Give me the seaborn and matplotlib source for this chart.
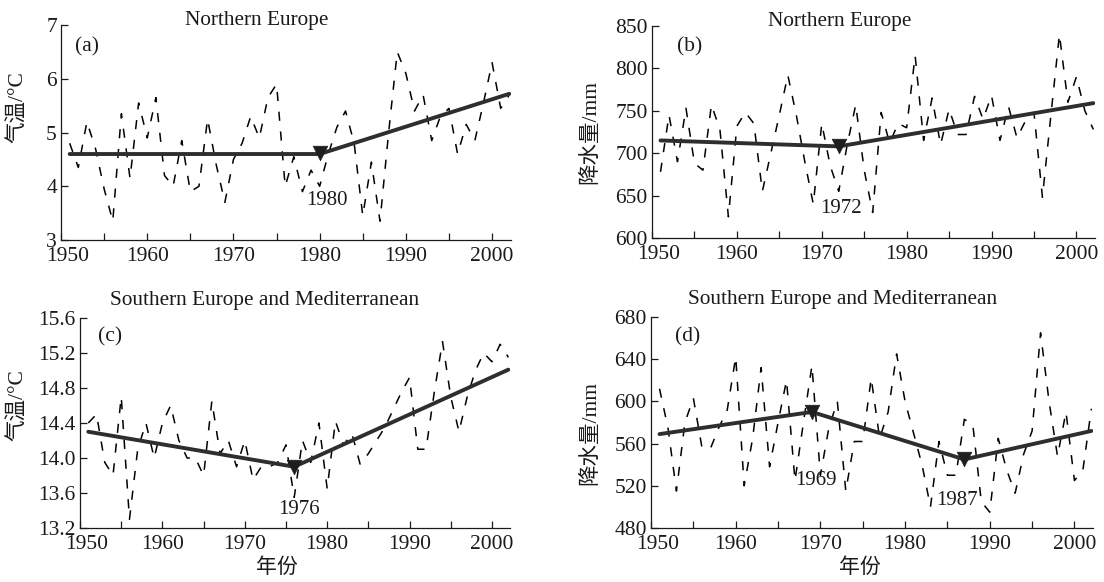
import matplotlib
matplotlib.use("Agg")
import matplotlib.pyplot as plt
import matplotlib.transforms as mtransforms
import seaborn as sns
import pandas as pd

# ---------------- data ----------------
years = list(range(1951, 2003))

temp_north = [4.8, 4.35, 5.2, 4.7, 3.95, 3.35, 5.35, 4.15, 5.55, 4.9,
              5.65, 4.2, 4.0, 4.85, 3.9, 4.0, 5.25, 4.4, 3.7, 4.5,
              4.8, 5.3, 4.9, 5.65, 5.9, 4.0, 4.55, 3.9, 4.3, 4.0,
              4.6, 5.1, 5.4, 4.8, 3.45, 4.45, 3.35, 5.0, 6.5, 6.1,
              5.4, 5.7, 4.85, 5.3, 5.45, 4.6, 5.15, 4.85, 5.55, 6.3,
              5.45, 5.7]

precip_north = [678, 745, 690, 753, 688, 680, 757, 728, 625, 732,
                748, 735, 655, 700, 745, 792, 745, 690, 640, 735,
                685, 655, 710, 757, 680, 630, 748, 712, 735, 730,
                815, 715, 765, 710, 752, 722, 722, 767, 740, 768,
                715, 755, 718, 738, 748, 648, 745, 840, 760, 790,
                750, 728]

temp_south = [14.4, 14.5, 13.95, 13.8, 14.7, 13.3, 14.1, 14.4, 14.0, 14.4,
              14.6, 14.2, 14.0, 14.0, 13.8, 14.65, 14.05, 14.2, 13.9, 14.2,
              13.75, 13.9, 13.9, 13.95, 14.15, 13.55, 14.2, 13.95, 14.4, 13.65,
              14.42, 14.15, 14.28, 13.93, 14.05, 14.2, 14.35, 14.55, 14.75, 14.92,
              14.1, 14.1, 14.75, 15.33, 14.7, 14.3, 14.7, 15.0, 15.2, 15.1,
              15.3, 15.15]

precip_south = [612, 575, 515, 580, 603, 557, 555, 575, 592, 642,
                520, 565, 632, 538, 580, 620, 525, 580, 634, 530,
                575, 600, 515, 562, 562, 622, 565, 590, 645, 600,
                570, 540, 500, 562, 530, 530, 583, 578, 505, 495,
                565, 535, 513, 550, 572, 665, 600, 548, 590, 525,
                535, 593]

trend_a_years = [1951, 1980, 2002]
trend_a_vals = [4.6, 4.6, 5.72]
trend_b_years = [1951, 1972, 2002]
trend_b_vals = [715, 708, 759]
trend_c_years = [1951, 1976, 2002]
trend_c_vals = [14.3, 13.9, 15.01]
trend_d_years = [1951, 1969, 1987, 2002]
trend_d_vals = [569, 590, 545, 572]

break_a_years, break_a_vals = [1980], [4.62]
break_b_years, break_b_vals = [1972], [708]
break_c_years, break_c_vals = [1976], [13.9]
break_d_years, break_d_vals = [1969, 1987], [590, 545]

titles = ["Northern Europe", "Northern Europe",
          "Southern Europe and Mediterranean", "Southern Europe and Mediterranean"]
panel_tags = ["(a)", "(b)", "(c)", "(d)"]
ylabels = ["气温/°C", "降水量/mm", "气温/°C", "降水量/mm"]
xlabel_text = "年份"

yticks_a = [3, 4, 5, 6, 7]
yticks_b = [600, 650, 700, 750, 800, 850]
yticks_c = [13.2, 13.6, 14.0, 14.4, 14.8, 15.2, 15.6]
yticks_d = [480, 520, 560, 600, 640, 680]
xticks = list(range(1950, 2001, 5))
xtick_labels = ["1950", "", "1960", "", "1970", "", "1980", "", "1990", "", "2000"]

break_labels_a = [("1980", 1980.8, 3.74)]
break_labels_b = [("1972", 1972.3, 635)]
break_labels_c = [("1976", 1976.6, 13.41)]
break_labels_d = [("1969", 1969.5, 525), ("1987", 1986.1, 506)]

# ---------------- style ----------------
sns.set_theme(style="ticks")
plt.rcParams["font.family"] = ["Liberation Serif", "Noto Sans CJK SC"]
plt.rcParams["axes.unicode_minus"] = False

INK = "#1a1a1a"
fig = plt.figure(figsize=(11.04, 5.82), dpi=100)

positions = [
    [0.0553, 0.5876, 0.4076, 0.3694],
    [0.5906, 0.5911, 0.4013, 0.3643],
    [0.0725, 0.0928, 0.3895, 0.3608],
    [0.5897, 0.0928, 0.4004, 0.3625],
]

panels = [
    (temp_north, trend_a_years, trend_a_vals, break_a_years, break_a_vals,
     yticks_a, "%d", break_labels_a),
    (precip_north, trend_b_years, trend_b_vals, break_b_years, break_b_vals,
     yticks_b, "%d", break_labels_b),
    (temp_south, trend_c_years, trend_c_vals, break_c_years, break_c_vals,
     yticks_c, "%.1f", break_labels_c),
    (precip_south, trend_d_years, trend_d_vals, break_d_years, break_d_vals,
     yticks_d, "%d", break_labels_d),
]

title_x = [0.435, 0.424, 0.43, 0.434]
title_y = [0.975, 0.975, 1.04, 1.04]
tag_xy = [(0.03, 0.945), (0.056, 0.948), (0.042, 0.957), (0.054, 0.953)]
ylabel_xy = [(-0.073, 0.62), (-0.117, 0.5), (-0.121, 0.585), (-0.115, 0.45)]

for i, (vals, ty, tv, by, bv, yt, fmt, blabels) in enumerate(panels):
    ax = fig.add_axes(positions[i])
    df = pd.DataFrame({"year": years, "value": vals})
    tdf = pd.DataFrame({"year": ty, "value": tv})
    bdf = pd.DataFrame({"year": by, "value": bv})

    sns.lineplot(data=df, x="year", y="value", ax=ax, color="black",
                 linewidth=1.1, linestyle=(0, (6, 7)))
    sns.lineplot(data=tdf, x="year", y="value", ax=ax, color="#2e2e2e",
                 linewidth=2.8)
    sns.scatterplot(data=bdf, x="year", y="value", ax=ax, marker="v", s=110,
                    color="#1e1e1e", edgecolor="#1e1e1e", linewidth=0.5,
                    zorder=5)

    ax.set_xlim(1950, 2002.2)
    ax.set_ylim(yt[0], yt[-1])
    ax.set_yticks(yt)
    ax.set_yticklabels([fmt % v for v in yt])
    ax.set_xticks(xticks)
    ax.set_xticklabels(xtick_labels)
    ax.tick_params(axis="both", direction="in", length=5, width=0.9,
                   labelsize=15.5, colors=INK)
    ax.tick_params(axis="x", pad=5)
    ax.tick_params(axis="y", pad=3)
    # first year label sits a little right of the spine, as in the source
    shift = mtransforms.ScaledTranslation(7 / 100, 0, fig.dpi_scale_trans)
    first = ax.get_xticklabels()[0]
    first.set_transform(first.get_transform() + shift)
    sns.despine(ax=ax)
    for s in ("left", "bottom"):
        ax.spines[s].set_linewidth(0.9)
        ax.spines[s].set_color(INK)

    ax.set_xlabel("")
    ax.set_ylabel(ylabels[i], fontsize=15.5, color=INK)
    ax.yaxis.set_label_coords(*ylabel_xy[i])
    if i >= 2:
        ax.set_xlabel(xlabel_text, fontsize=15, color=INK)
        ax.xaxis.set_label_coords(0.458 if i == 2 else 0.473, -0.145)

    ax.text(title_x[i], title_y[i], titles[i], transform=ax.transAxes,
            ha="center", va="bottom", fontsize=15.3, color=INK)
    ax.text(tag_xy[i][0], tag_xy[i][1], panel_tags[i], transform=ax.transAxes,
            ha="left", va="top", fontsize=15.5, color=INK)
    for txt, xx, yy in blabels:
        ax.text(xx, yy, txt, ha="center", va="center", fontsize=15,
                color=INK)

fig.savefig("out.png", dpi=100)
